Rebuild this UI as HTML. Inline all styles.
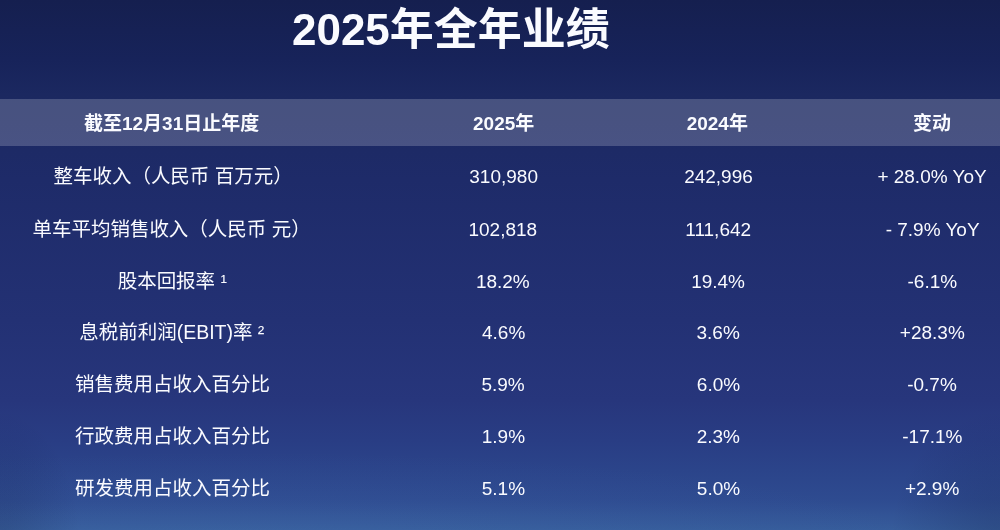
<!DOCTYPE html>
<html lang="zh-CN">
<head>
<meta charset="utf-8">
<title>2025年全年业绩</title>
<style>
html,body{margin:0;padding:0;background:#1c2458;}
body{width:1000px;height:530px;overflow:hidden;font-family:"Liberation Sans",sans-serif;}
.slide{position:relative;width:1000px;height:530px;overflow:hidden;background:#1f2a6c;}
.bg{position:absolute;left:0;top:0;width:1000px;height:530px;
 background:
  radial-gradient(ellipse 700px 95px at 240px 545px,rgba(110,170,230,0.07),rgba(110,170,230,0) 100%),
  radial-gradient(ellipse 80px 130px at 0px 540px,rgba(10,16,50,0.2),rgba(10,16,50,0) 100%),
  radial-gradient(ellipse 110px 130px at 1000px 540px,rgba(10,16,50,0.2),rgba(10,16,50,0) 100%),
  linear-gradient(180deg,#151f4f 0px,#17235a 60px,#1b2860 95px,#1e2b69 180px,#233174 320px,#27367c 400px,#293d84 440px,#2b448a 470px,#2e4b90 500px,#365c9b 530px);}
.band{position:absolute;left:0;top:99.2px;width:1000px;height:46.6px;background:rgba(255,255,255,0.195);}
.title{position:absolute;margin:0;padding:0;font-size:0;line-height:0;font-weight:normal;}
.table{position:absolute;left:0;top:0;width:1000px;height:530px;}
.row{position:absolute;left:0;width:1000px;height:32px;}
.cell{position:absolute;top:0;height:32px;text-align:center;font-size:0;line-height:0;}
.t{display:inline-block;position:relative;}
.g{display:block;fill:#fafbff;overflow:visible;filter:blur(0.35px);}
.g text{font-family:"Liberation Sans","Noto Sans CJK SC",sans-serif;fill:#fafbff;}
.title .g text{font-weight:bold;font-size:44px;}
.head .g text{font-weight:bold;font-size:19px;}
.body .g text{font-weight:normal;font-size:19px;}
.body .c1 .g text{font-size:19.5px;}

</style>
</head>
<body>
<div class="slide">
<div class="bg"></div>
<h1 class="title" style="top:-5.3px;left:293.4px"><span class="t "><svg class="g" width="315.73" height="64.00" viewBox="0 -50.00 315.73 64.00"><text x="157.87" y="0" text-anchor="middle">2025年全年业绩</text></svg></span></h1>
<div class="table" role="table" aria-label="2025年全年业绩">
<div class="band"></div>
<div class="row head" role="row" style="top:105.6px"><div class="cell c1" role="columnheader" style="left:0.0px;width:344px"><span class="t "><svg class="g" width="171.20" height="32.00" viewBox="0 -24.00 171.20 32.00"><text x="85.6" y="0" text-anchor="middle">截至12月31日止年度</text></svg></span></div><div class="cell c2" role="columnheader" style="left:396.2px;width:214px"><span class="t "><svg class="g" width="61.35" height="32.00" viewBox="0 -24.00 61.35 32.00"><text x="30.68" y="0" text-anchor="middle">2025年</text></svg></span></div><div class="cell c3" role="columnheader" style="left:610.6px;width:214px"><span class="t "><svg class="g" width="62.60" height="32.00" viewBox="0 -24.00 62.60 32.00"><text x="31.3" y="0" text-anchor="middle">2024年</text></svg></span></div><div class="cell c4" role="columnheader" style="left:863.5px;width:136px"><span class="t "><svg class="g" width="38.00" height="32.00" viewBox="0 -24.00 38.00 32.00"><text x="19" y="0" text-anchor="middle">变动</text></svg></span></div></div>
<div class="row body" role="row" style="top:159.1px"><div class="cell c1" role="cell" style="left:0.7px;width:344px"><span class="t "><svg class="g" width="240.20" height="32.00" viewBox="0 -24.00 240.20 32.00"><text x="120.1" y="0" text-anchor="middle">整车收入（人民币 百万元）</text></svg></span></div><div class="cell c2" role="cell" style="left:396.2px;width:214px"><span class="t "><svg class="g" width="65.23" height="32.00" viewBox="0 -24.00 65.23 32.00"><text x="32.62" y="0" text-anchor="middle">310,980</text></svg></span></div><div class="cell c3" role="cell" style="left:611.0px;width:214px"><span class="t "><svg class="g" width="68.93" height="32.00" viewBox="0 -24.00 68.93 32.00"><text x="34.47" y="0" text-anchor="middle">242,996</text></svg></span></div><div class="cell c4" role="cell" style="left:864.3px;width:136px"><span class="t "><svg class="g" width="104.04" height="32.00" viewBox="0 -24.00 104.04 32.00"><text x="52.02" y="0" text-anchor="middle">+ 28.0% YoY</text></svg></span></div></div>
<div class="row body" role="row" style="top:211.6px"><div class="cell c1" role="cell" style="left:-0.4px;width:344px"><span class="t "><svg class="g" width="279.20" height="32.00" viewBox="0 -24.00 279.20 32.00"><text x="139.6" y="0" text-anchor="middle">单车平均销售收入（人民币 元）</text></svg></span></div><div class="cell c2" role="cell" style="left:396.2px;width:214px"><span class="t "><svg class="g" width="61.54" height="32.00" viewBox="0 -24.00 61.54 32.00"><text x="30.77" y="0" text-anchor="middle">102,818</text></svg></span></div><div class="cell c3" role="cell" style="left:611.0px;width:214px"><span class="t "><svg class="g" width="58.29" height="32.00" viewBox="0 -24.00 58.29 32.00"><text x="29.15" y="0" text-anchor="middle">111,642</text></svg></span></div><div class="cell c4" role="cell" style="left:864.3px;width:136px"><span class="t "><svg class="g" width="89.24" height="32.00" viewBox="0 -24.00 89.24 32.00"><text x="44.62" y="0" text-anchor="middle">- 7.9% YoY</text></svg></span></div></div>
<div class="row body" role="row" style="top:263.5px"><div class="cell c1" role="cell" style="left:0.0px;width:344px"><span class="t "><svg class="g" width="106.68" height="32.00" viewBox="0 -24.00 106.68 32.00"><text x="53.34" y="0" text-anchor="middle">股本回报率 ¹</text></svg></span></div><div class="cell c2" role="cell" style="left:396.2px;width:214px"><span class="t "><svg class="g" width="49.59" height="32.00" viewBox="0 -24.00 49.59 32.00"><text x="24.8" y="0" text-anchor="middle">18.2%</text></svg></span></div><div class="cell c3" role="cell" style="left:611.0px;width:214px"><span class="t "><svg class="g" width="50.13" height="32.00" viewBox="0 -24.00 50.13 32.00"><text x="25.07" y="0" text-anchor="middle">19.4%</text></svg></span></div><div class="cell c4" role="cell" style="left:864.3px;width:136px"><span class="t "><svg class="g" width="46.64" height="32.00" viewBox="0 -24.00 46.64 32.00"><text x="23.32" y="0" text-anchor="middle">-6.1%</text></svg></span></div></div>
<div class="row body" role="row" style="top:315.1px"><div class="cell c1" role="cell" style="left:-0.3px;width:344px"><span class="t "><svg class="g" width="183.61" height="32.00" viewBox="0 -24.00 183.61 32.00"><text x="91.8" y="0" text-anchor="middle">息税前利润(EBIT)率 ²</text></svg></span></div><div class="cell c2" role="cell" style="left:396.2px;width:214px"><span class="t "><svg class="g" width="43.29" height="32.00" viewBox="0 -24.00 43.29 32.00"><text x="21.65" y="0" text-anchor="middle">4.6%</text></svg></span></div><div class="cell c3" role="cell" style="left:611.0px;width:214px"><span class="t "><svg class="g" width="42.24" height="32.00" viewBox="0 -24.00 42.24 32.00"><text x="21.12" y="0" text-anchor="middle">3.6%</text></svg></span></div><div class="cell c4" role="cell" style="left:864.3px;width:136px"><span class="t "><svg class="g" width="62.63" height="32.00" viewBox="0 -24.00 62.63 32.00"><text x="31.32" y="0" text-anchor="middle">+28.3%</text></svg></span></div></div>
<div class="row body" role="row" style="top:366.9px"><div class="cell c1" role="cell" style="left:0.0px;width:344px"><span class="t "><svg class="g" width="195.00" height="32.00" viewBox="0 -24.00 195.00 32.00"><text x="97.5" y="0" text-anchor="middle">销售费用占收入百分比</text></svg></span></div><div class="cell c2" role="cell" style="left:396.2px;width:214px"><span class="t "><svg class="g" width="42.18" height="32.00" viewBox="0 -24.00 42.18 32.00"><text x="21.09" y="0" text-anchor="middle">5.9%</text></svg></span></div><div class="cell c3" role="cell" style="left:611.0px;width:214px"><span class="t "><svg class="g" width="42.96" height="32.00" viewBox="0 -24.00 42.96 32.00"><text x="21.48" y="0" text-anchor="middle">6.0%</text></svg></span></div><div class="cell c4" role="cell" style="left:864.3px;width:136px"><span class="t "><svg class="g" width="50.04" height="32.00" viewBox="0 -24.00 50.04 32.00"><text x="25.02" y="0" text-anchor="middle">-0.7%</text></svg></span></div></div>
<div class="row body" role="row" style="top:418.7px"><div class="cell c1" role="cell" style="left:0.0px;width:344px"><span class="t "><svg class="g" width="195.00" height="32.00" viewBox="0 -24.00 195.00 32.00"><text x="97.5" y="0" text-anchor="middle">行政费用占收入百分比</text></svg></span></div><div class="cell c2" role="cell" style="left:396.2px;width:214px"><span class="t "><svg class="g" width="38.73" height="32.00" viewBox="0 -24.00 38.73 32.00"><text x="19.37" y="0" text-anchor="middle">1.9%</text></svg></span></div><div class="cell c3" role="cell" style="left:611.0px;width:214px"><span class="t "><svg class="g" width="42.67" height="32.00" viewBox="0 -24.00 42.67 32.00"><text x="21.34" y="0" text-anchor="middle">2.3%</text></svg></span></div><div class="cell c4" role="cell" style="left:864.3px;width:136px"><span class="t "><svg class="g" width="52.73" height="32.00" viewBox="0 -24.00 52.73 32.00"><text x="26.37" y="0" text-anchor="middle">-17.1%</text></svg></span></div></div>
<div class="row body" role="row" style="top:471.3px"><div class="cell c1" role="cell" style="left:0.0px;width:344px"><span class="t "><svg class="g" width="195.00" height="32.00" viewBox="0 -24.00 195.00 32.00"><text x="97.5" y="0" text-anchor="middle">研发费用占收入百分比</text></svg></span></div><div class="cell c2" role="cell" style="left:396.2px;width:214px"><span class="t "><svg class="g" width="38.79" height="32.00" viewBox="0 -24.00 38.79 32.00"><text x="19.4" y="0" text-anchor="middle">5.1%</text></svg></span></div><div class="cell c3" role="cell" style="left:611.0px;width:214px"><span class="t "><svg class="g" width="42.98" height="32.00" viewBox="0 -24.00 42.98 32.00"><text x="21.49" y="0" text-anchor="middle">5.0%</text></svg></span></div><div class="cell c4" role="cell" style="left:864.3px;width:136px"><span class="t "><svg class="g" width="52.16" height="32.00" viewBox="0 -24.00 52.16 32.00"><text x="26.08" y="0" text-anchor="middle">+2.9%</text></svg></span></div></div>
</div>
</div>
</body>
</html>
